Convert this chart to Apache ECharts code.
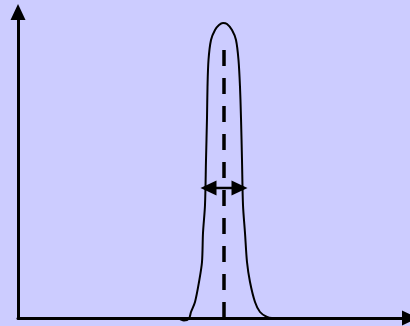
<!DOCTYPE html>
<html>
<head>
<meta charset="utf-8">
<script src="https://cdn.jsdelivr.net/npm/echarts@6/dist/echarts.min.js"></script>
<style>
  html, body { margin: 0; padding: 0; background: #ccccff; }
  #container { width: 410px; height: 326px; }
</style>
</head>
<body>
<div id="container"></div>
<script>
// peak outline, x / height in axis units (origin at the axis corner)
var peakX = [0, 160, 166, 171, 173, 177, 181, 184, 185, 187, 188, 189, 189.5, 190.5, 193, 197, 201, 205,
             209, 214, 218, 220.5, 222, 223, 224, 225, 227, 229, 232, 237, 242, 249, 254, 282, 392];
var peakY = [0, -0.5, -2.5, -0.5, 6, 16, 36, 56, 85, 113, 158, 200, 231, 258, 278, 288, 293, 295,
             294, 288, 278, 258, 231, 200, 158, 113, 85, 56, 36, 16, 6, 1, 0, 0, 0];

// centre of the peak and where the dashed centre line stops
var centreX = 206;
var centreTop = 268;

// width marker: height and the two arrow head centres
var widthY = 130;
var widthHeads = [190.5, 221.5];

var myChart;

function initChart() {
    var dom = document.getElementById('container');
    myChart = echarts.init(dom, null, { renderer: 'canvas' });

    var curve = peakX.map(function (x, i) {
        return [x, peakY[i]];
    });

    var option = {
        backgroundColor: '#ccccff',
        animation: false,
        grid: { left: 18, right: 0, top: 12, bottom: 8 },
        xAxis: {
            type: 'value', min: 0, max: 392,
            axisLine: {
                show: true,
                symbol: ['none', 'triangle'],
                symbolSize: [15, 16],
                lineStyle: { color: '#000', width: 3 }
            },
            axisTick: { show: false },
            axisLabel: { show: false },
            splitLine: { show: false }
        },
        yAxis: {
            type: 'value', min: 0, max: 306,
            axisLine: {
                show: true,
                symbol: ['none', 'triangle'],
                symbolSize: [15, 16],
                lineStyle: { color: '#000', width: 3 }
            },
            axisTick: { show: false },
            axisLabel: { show: false },
            splitLine: { show: false }
        },
        series: [
            {
                type: 'line',
                data: curve,
                smooth: 0.3,
                clip: false,
                showSymbol: false,
                lineStyle: { color: '#000', width: 2 }
            },
            {
                type: 'line',
                data: [[centreX, 0], [centreX, centreTop]],
                showSymbol: false,
                lineStyle: { color: '#000', width: 3.5, type: [16, 12] }
            },
            {
                type: 'line',
                data: [
                    { value: [widthHeads[0], widthY], symbolRotate: 90 },
                    { value: [widthHeads[1], widthY], symbolRotate: -90 }
                ],
                symbol: 'triangle',
                symbolSize: [15, 16],
                itemStyle: { color: '#000' },
                lineStyle: { color: '#000', width: 2.5 }
            }
        ]
    };

    myChart.setOption(option);
}

initChart();
</script>
</body>
</html>
